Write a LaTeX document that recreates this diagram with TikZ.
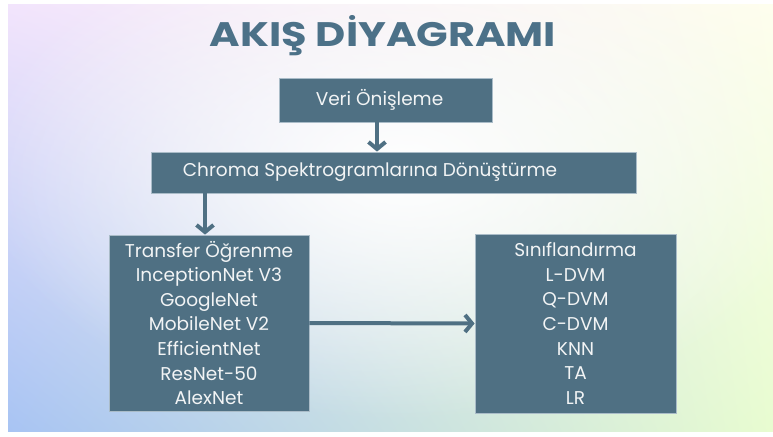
\documentclass[tikz,border=0pt]{standalone}
\usepackage{fontspec}
\setmainfont{Poppins}
\usetikzlibrary{arrows.meta,fadings,shadings}
\usepackage{xcolor}

\definecolor{boxblue}{RGB}{79,112,131}
\definecolor{titleblue}{RGB}{76,113,136}
\definecolor{boxedge}{RGB}{170,188,200}
\definecolor{textwhite}{RGB}{242,244,245}
\definecolor{bgpink}{RGB}{242,228,252}
\definecolor{bgtop}{RGB}{254,254,238}
\definecolor{bgblue}{RGB}{168,196,243}
\definecolor{bggreen}{RGB}{232,252,208}

\tikzfading[name=fadecenter, inner color=transparent!0, outer color=transparent!100]

\begin{document}
\begin{tikzpicture}[x=1pt,y=-1pt,
	box/.style={draw=boxedge, line width=0.8pt, fill=boxblue, text=textwhite, inner sep=0pt, font=\fontsize{18.5}{24.6}\selectfont},
	arr/.style={-{Straight Barb[length=7pt,width=17pt]}, line width=4pt, draw=boxblue}]
	% background
	\useasboundingbox (0,0) rectangle (773,436);
	\fill[white] (0,0) rectangle (773,436);
	\shade[upper left=bgpink, upper right=bgtop, lower left=bgblue, lower right=bggreen] (8,5) rectangle (773,431);
	\fill[white, path fading=fadecenter] (400,170) ellipse [x radius=420, y radius=250];

	\node (title) [anchor=base, font=\fontsize{34}{40}\selectfont\bfseries, text=titleblue] at (383,47) {\scalebox{1.22}[1]{AKIŞ DİYAGRAMI}};

	\node (veri) [box, minimum width=213, minimum height=44] at (385.5,100) {Veri Önişleme\hspace*{12pt}};
	\node (chroma) [box, minimum width=485, minimum height=41] at (393.5,172.5) {\raisebox{6pt}{Chroma Spektrogramlarına Dönüştürme}\hspace*{47pt}};
	\node (transfer) [box, minimum width=200, minimum height=176, align=center] at (209,323) {Transfer Öğrenme\\InceptionNet V3\\GoogleNet\\MobileNet V2\\EfficientNet\\ResNet-50\\AlexNet};
	\node (sinif) [box, minimum width=201, minimum height=179, align=center] at (575.5,323.5) {Sınıflandırma\\L-DVM\\Q-DVM\\C-DVM\\KNN\\TA\\LR};

	\draw[arr] ([xshift=-8.5pt]veri.south) -- ([xshift=-8.5pt]veri.south |- chroma.north);
	\draw[arr] ([xshift=-4pt]chroma.south -| transfer.north) -- ([xshift=-4pt]transfer.north);
	\draw[arr] (transfer.east) -- (sinif.west);
\end{tikzpicture}
\end{document}
